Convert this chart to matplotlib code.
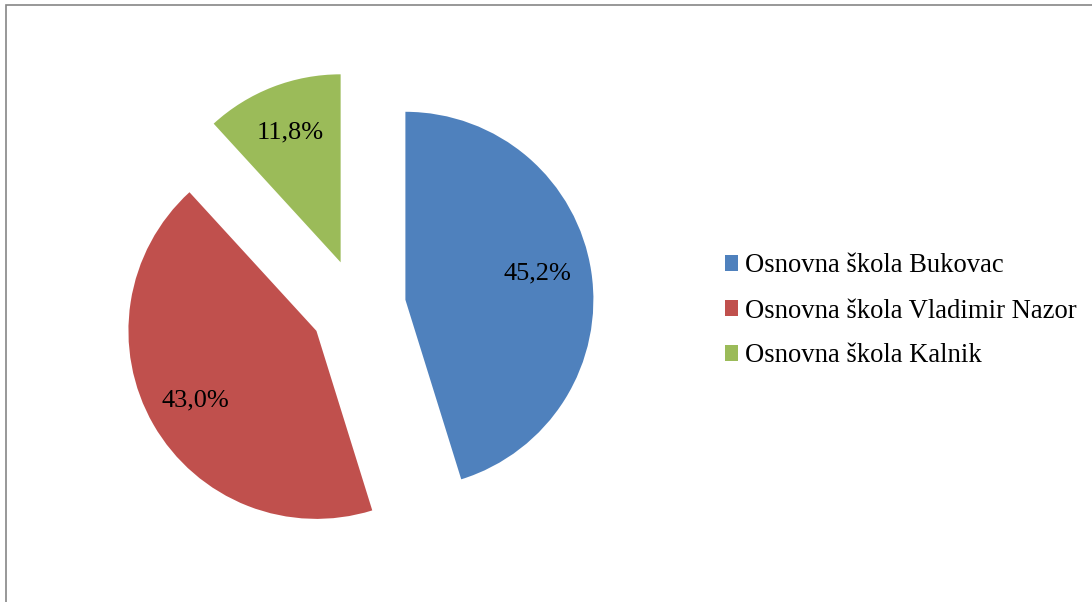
import matplotlib
matplotlib.use('Agg')
import matplotlib.pyplot as plt
from matplotlib.patches import Rectangle

# Data
schools = ['Osnovna škola Bukovac', 'Osnovna škola Vladimir Nazor', 'Osnovna škola Kalnik']
shares = [45.2, 43.0, 11.8]
colors = ['#4F81BD', '#C0504D', '#9BBB59']

plt.rcParams['font.family'] = ['Liberation Serif', 'DejaVu Serif']

W, H = 1092, 602
fig = plt.figure(figsize=(W / 100, H / 100), dpi=100)

# axes covering the whole figure, 1 data unit = 188 px
r_px = 188.0
cx, cy = 358.0, H - 307.0
ax = fig.add_axes([0, 0, 1, 1])

wedges, texts, autotexts = ax.pie(
    shares, colors=colors, explode=[0.255] * 3, startangle=90,
    counterclock=False, autopct=lambda p: f'{p:.1f}%'.replace('.', ','),
    pctdistance=0.74, radius=1.0, frame=True,
    textprops=dict(fontsize=19, color='black'))
ax.set_xlim(-cx / r_px, (W - cx) / r_px)
ax.set_ylim(-cy / r_px, (H - cy) / r_px)
ax.axis('off')

# the first label sits a little higher in the original
x0, y0 = autotexts[0].get_position()
autotexts[0].set_position((x0 - 0.03, y0 + 0.03))

fig.legend(wedges, schools, loc='center left',
           bbox_to_anchor=(725 / W, 291 / H), frameon=False,
           fontsize=19.2, handlelength=0.5, handleheight=0.5,
           handletextpad=0.25, labelspacing=0.75, borderpad=0,
           borderaxespad=0)

# chart frame (only left and top edges are visible)
fig.add_artist(Rectangle((6 / W, -0.1), 1.2, 1.1 - 5 / H,
                         transform=fig.transFigure, fill=False,
                         edgecolor='#868686', linewidth=1.2))

fig.savefig('out.png', dpi=100, facecolor='white')
